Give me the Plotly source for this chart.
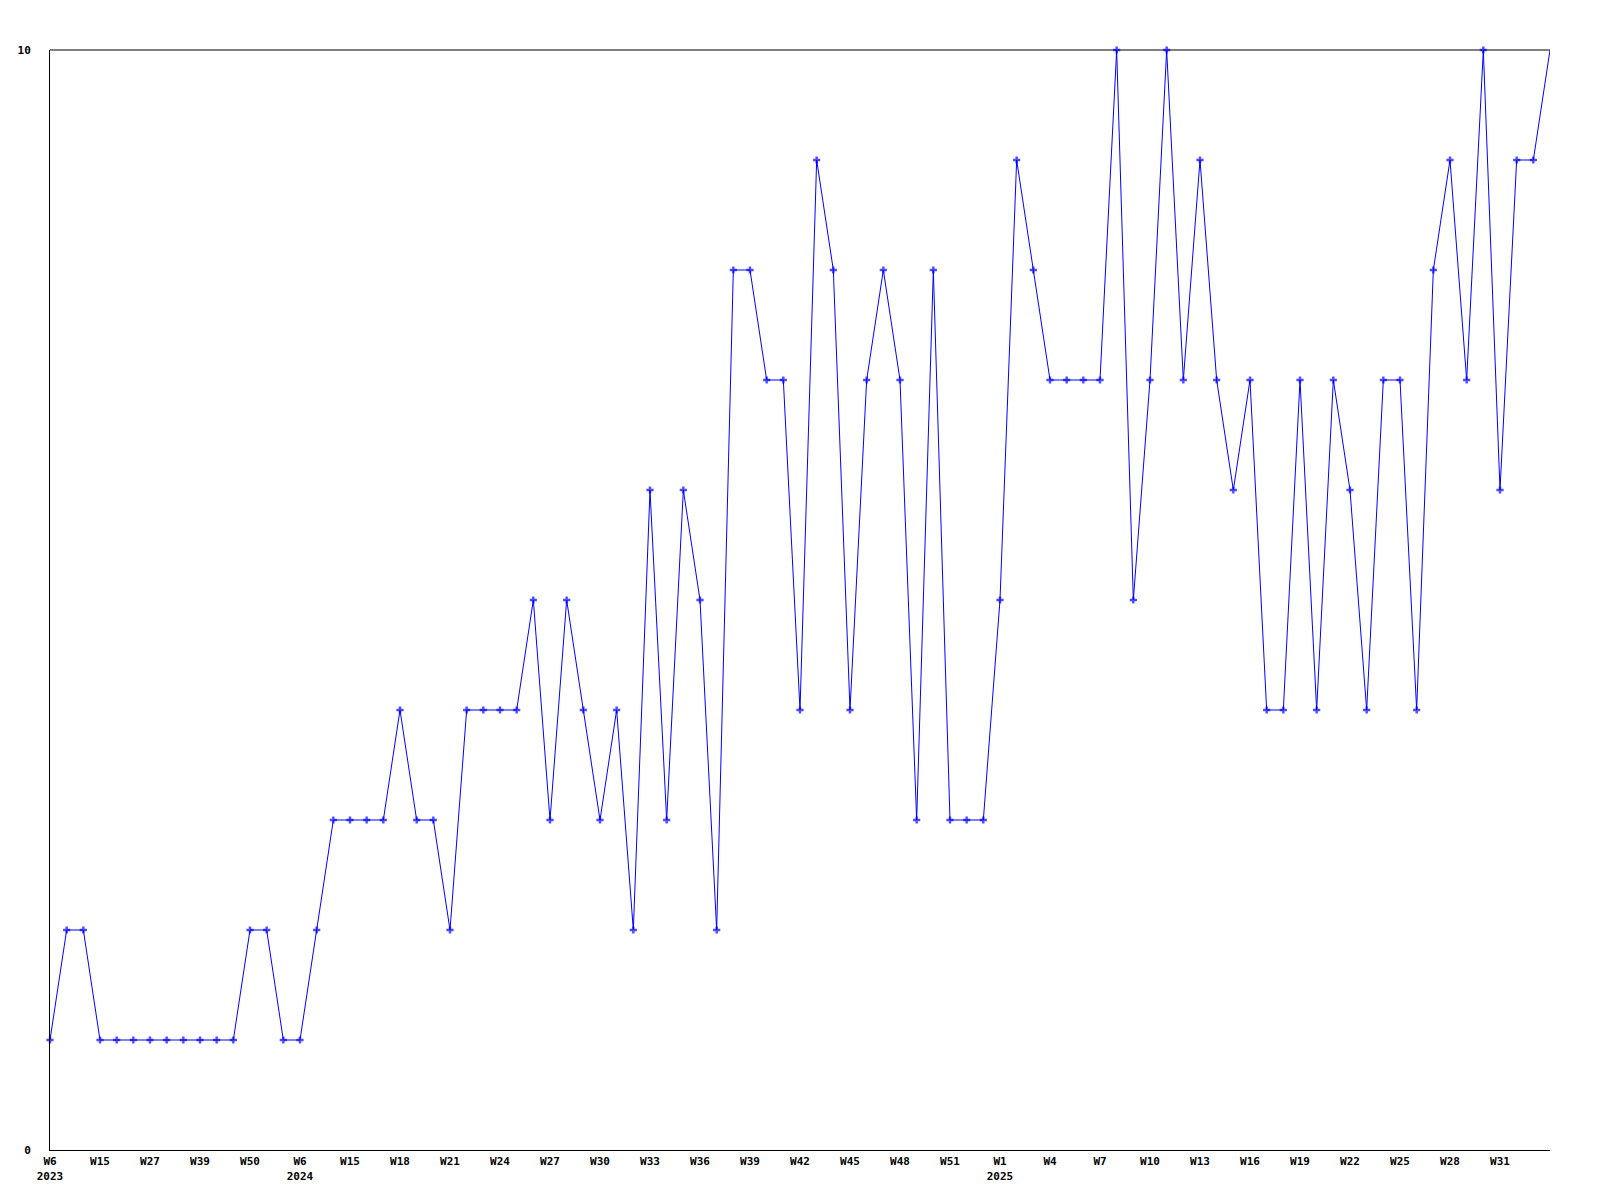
import plotly.graph_objects as go

# weekly counts (one point per sampled week)
values = [1, 2, 2, 1, 1, 1, 1, 1, 1, 1, 1, 1, 2, 2, 1,
          1, 2, 3, 3, 3, 3, 4, 3, 3, 2, 4, 4, 4, 4, 5,
          3, 5, 4, 3, 4, 2, 6, 3, 6, 5, 2, 8, 8, 7, 7,
          4, 9, 8, 4, 7, 8, 7, 3, 8, 3, 3, 3, 5, 9, 8,
          7, 7, 7, 7, 10, 5, 7, 10, 7, 9, 7, 6, 7, 4, 4,
          7, 4, 7, 6, 4, 7, 7, 4, 8, 9, 7, 10, 6, 9, 9, 10]

tick_labels = ["W6<br>2023", "W15", "W27", "W39", "W50", "W6<br>2024", "W15", "W18",
               "W21", "W24", "W27", "W30", "W33", "W36", "W39", "W42", "W45", "W48",
               "W51", "W1<br>2025", "W4", "W7", "W10", "W13", "W16", "W19", "W22",
               "W25", "W28", "W31"]
tick_step = 3

y_ticks = [0, 10]

x = list(range(len(values)))
tick_pos = [i * tick_step for i in range(len(tick_labels))]
sizes = [6] * (len(values) - 1) + [0]

font = dict(family="DejaVu Sans Mono", size=11, color="black", weight="bold")

fig = go.Figure(go.Scatter(
    x=x, y=values, mode="lines+markers",
    line=dict(color="#0000ff", width=1),
    marker=dict(symbol="cross", size=sizes, color="#0000ff", line=dict(width=0)),
    hoverinfo="skip", showlegend=False, cliponaxis=False,
))

fig.update_layout(
    width=1584, height=1184,
    margin=dict(l=42, r=42, t=42, b=42, pad=0),
    paper_bgcolor="white", plot_bgcolor="white",
    font=font,
    shapes=[dict(type="line", xref="paper", yref="paper", x0=0, x1=1, y0=1, y1=1,
                 line=dict(color="black", width=1), layer="below")],
)
fig.update_xaxes(
    range=[0, len(values) - 1], tickvals=tick_pos, ticktext=tick_labels,
    showgrid=False, zeroline=False, showline=True, linecolor="black", linewidth=1,
    ticks="", tickfont=font, ticklabelstandoff=1, automargin=False,
)
fig.update_yaxes(
    range=[0, 10], tickvals=y_ticks, ticktext=[str(v) for v in y_ticks],
    showgrid=False, zeroline=False, showline=True, linecolor="black", linewidth=1,
    ticks="", tickfont=font, ticklabelstandoff=16, automargin=False,
)

fig.write_html("out.html")
